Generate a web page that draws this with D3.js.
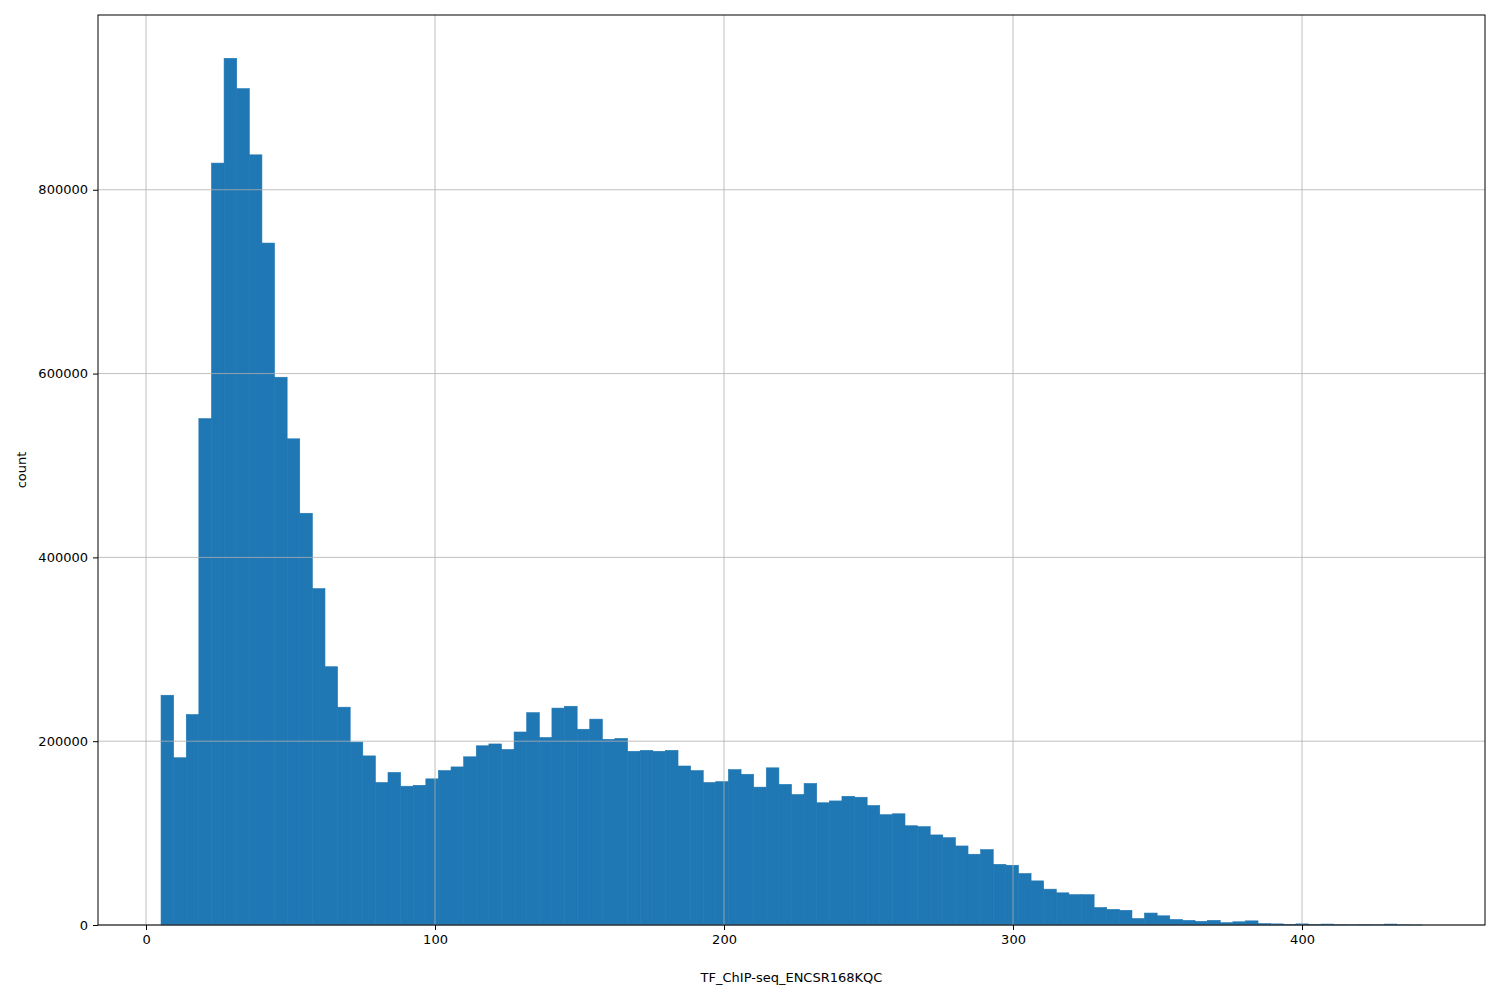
<!DOCTYPE html>
<html>
<head>
<meta charset="utf-8">
<script src="https://cdn.jsdelivr.net/npm/d3@7"></script>
<style>
  body { margin: 0; background: #fff; }
  text { font-family: "DejaVu Sans", sans-serif; }
</style>
</head>
<body>
<div id="chart"></div>
<script>
const binStart = 5.2, binWidth = 4.363;
const counts = [250000, 182000, 229000, 551000, 829000, 943000, 910000, 838000, 742000, 596000,
  529000, 448000, 366000, 281000, 237000, 199000, 184000, 155000, 166000, 151000,
  152000, 159000, 168000, 172000, 183000, 195000, 197000, 191000, 210000, 231000,
  204000, 236000, 238000, 213000, 224000, 202000, 203000, 189000, 190000, 189000,
  190000, 173000, 168000, 155000, 156000, 169000, 164000, 150000, 171000, 153000,
  142000, 154000, 133000, 135000, 140000, 139000, 130000, 120000, 121000, 108000,
  107000, 98000, 95000, 86000, 77000, 82000, 66000, 65000, 56000, 48000,
  39000, 35000, 33000, 33000, 19000, 17000, 16000, 7000, 13000, 10000,
  6000, 5000, 4000, 5000, 2500, 3500, 4500, 1500, 1200, 500,
  1200, 400, 1000, 300, 200, 300, 200, 1000, 200, 100];
const xTicks = [0, 100, 200, 300, 400];
const yTicks = [0, 200000, 400000, 600000, 800000];
const xLabel = "TF_ChIP-seq_ENCSR168KQC";
const yLabel = "count";

const margin = { top: 15, right: 15, bottom: 75, left: 98 },
  width = 1500 - margin.left - margin.right,
  height = 1000 - margin.top - margin.bottom;

const svg = d3.select("#chart").append("svg")
  .attr("width", 1500).attr("height", 1000)
  .append("g")
  .attr("transform", `translate(${margin.left},${margin.top})`);

const xMin = binStart, xMax = binStart + binWidth * counts.length;
const pad = (xMax - xMin) * 0.05;
const x = d3.scaleLinear().domain([xMin - pad, xMax + pad]).range([0, width]);
const yMax = d3.max(counts) * 1.05;
const y = d3.scaleLinear().domain([0, yMax]).range([height, 0]);

// bars
svg.append("g").selectAll("rect")
  .data(counts)
  .join("rect")
  .attr("x", (d, i) => x(binStart + i * binWidth))
  .attr("width", x(binWidth) - x(0))
  .attr("y", d => y(d))
  .attr("height", d => height - y(d))
  .attr("fill", "#1f77b4")
  .attr("stroke", "#1f77b4")
  .attr("stroke-width", 0.6);

// grid (drawn above the bars, like matplotlib)
svg.append("g").selectAll("line.gx").data(xTicks).join("line")
  .attr("x1", d => x(d)).attr("x2", d => x(d))
  .attr("y1", 0).attr("y2", height)
  .attr("stroke", "#b0b0b0").attr("stroke-width", 0.8);
svg.append("g").selectAll("line.gy").data(yTicks).join("line")
  .attr("x1", 0).attr("x2", width)
  .attr("y1", d => y(d)).attr("y2", d => y(d))
  .attr("stroke", "#b0b0b0").attr("stroke-width", 0.8);

// axes
const xAxis = svg.append("g").attr("transform", `translate(0,${height})`)
  .call(d3.axisBottom(x).tickValues(xTicks).tickSize(5).tickPadding(5).tickFormat(d3.format("d")));
const yAxis = svg.append("g")
  .call(d3.axisLeft(y).tickValues(yTicks).tickSize(5).tickPadding(5).tickFormat(d3.format("d")));
[xAxis, yAxis].forEach(a => {
  a.select(".domain").remove();
  a.selectAll("text").style("font-size", "13px").attr("fill", "#000");
  a.selectAll(".tick line").attr("stroke", "#000");
});

// frame
svg.append("rect").attr("width", width).attr("height", height)
  .attr("fill", "none").attr("stroke", "#000").attr("stroke-width", 1);

svg.append("text")
  .attr("x", width / 2).attr("y", height + 57)
  .attr("text-anchor", "middle").style("font-size", "13px")
  .text(xLabel);
svg.append("text")
  .attr("transform", `translate(${-72},${height / 2}) rotate(-90)`)
  .attr("text-anchor", "middle").style("font-size", "13px")
  .text(yLabel);
</script>
</body>
</html>
